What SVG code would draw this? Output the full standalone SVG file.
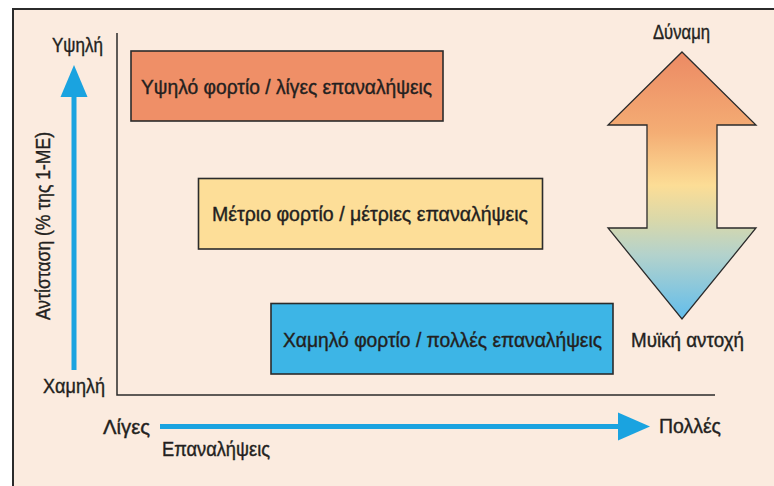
<svg xmlns="http://www.w3.org/2000/svg" width="774" height="486" viewBox="0 0 774 486">
<defs>
<style>
text{font-family:"Liberation Sans","DejaVu Sans",sans-serif;font-size:20.5px;fill:#231f20;stroke:#231f20;stroke-width:0.4px;}
.box{stroke:#2b2b2b;stroke-width:1.6;}
.axis{stroke:#2b2b2b;stroke-width:1.5;fill:none;}
.blue{fill:#1aa3e0;}
</style>
<linearGradient id="grad" x1="0" y1="52" x2="0" y2="319" gradientUnits="userSpaceOnUse">
<stop offset="0" stop-color="#ec8a64"/>
<stop offset="0.3" stop-color="#f4ad74"/>
<stop offset="0.5" stop-color="#fcdd96"/>
<stop offset="0.63" stop-color="#d9d8aa"/>
<stop offset="0.76" stop-color="#b3d2cc"/>
<stop offset="1" stop-color="#62bdec"/>
</linearGradient>
</defs>
<rect x="0" y="0" width="774" height="486" fill="#ffffff"/>
<rect x="13" y="9" width="775" height="490" fill="#fbebdf" stroke="#2b2b2b" stroke-width="2"/>

<g id="axes">
<polyline class="axis" points="117,33 117,395 715,395"/>
<g id="y-arrow">
<rect class="blue" x="71.5" y="95" width="5" height="275"/>
<polygon class="blue" points="74,65 87.5,97 60.5,97"/>
</g>
<g id="x-arrow">
<rect class="blue" x="160" y="424" width="460" height="5"/>
<polygon class="blue" points="650,426.5 618,412.5 618,440.5"/>
</g>
<text x="52" y="52" textLength="51" lengthAdjust="spacingAndGlyphs">Υψηλή</text>
<text x="43" y="393" textLength="62" lengthAdjust="spacingAndGlyphs">Χαμηλή</text>
<text x="103" y="434" textLength="47" lengthAdjust="spacingAndGlyphs">Λίγες</text>
<text x="162" y="456" textLength="108" lengthAdjust="spacingAndGlyphs">Επαναλήψεις</text>
<text x="659" y="433" textLength="62" lengthAdjust="spacingAndGlyphs">Πολλές</text>
<text transform="translate(50,320) rotate(-90)" x="0" y="0" textLength="188" lengthAdjust="spacingAndGlyphs">Αντίσταση (% της 1-ΜΕ)</text>
</g>

<g id="box-high">
<rect class="box" x="131" y="51" width="312" height="70" fill="#ef8f67"/>
<text x="141" y="94" textLength="291" lengthAdjust="spacingAndGlyphs">Υψηλό φορτίο / λίγες επαναλήψεις</text>
</g>
<g id="box-medium">
<rect class="box" x="198.5" y="178.5" width="344" height="70.5" fill="#fdde98"/>
<text x="212" y="220.5" textLength="316" lengthAdjust="spacingAndGlyphs">Μέτριο φορτίο / μέτριες επαναλήψεις</text>
</g>
<g id="box-low">
<rect class="box" x="271" y="303.5" width="342" height="70.5" fill="#3db5e6"/>
<text x="283" y="347" textLength="319" lengthAdjust="spacingAndGlyphs">Χαμηλό φορτίο / πολλές επαναλήψεις</text>
</g>

<g id="double-arrow">
<polygon points="682,52 756,125 717,125 717,228 756,228 682,319 608,228 647,228 647,125 608,125" fill="url(#grad)" stroke="#2b2b2b" stroke-width="1.3" stroke-linejoin="miter"/>
<text x="653" y="39" textLength="57" lengthAdjust="spacingAndGlyphs">Δύναμη</text>
<text x="631" y="347" textLength="113" lengthAdjust="spacingAndGlyphs">Μυϊκή αντοχή</text>
</g>
</svg>
